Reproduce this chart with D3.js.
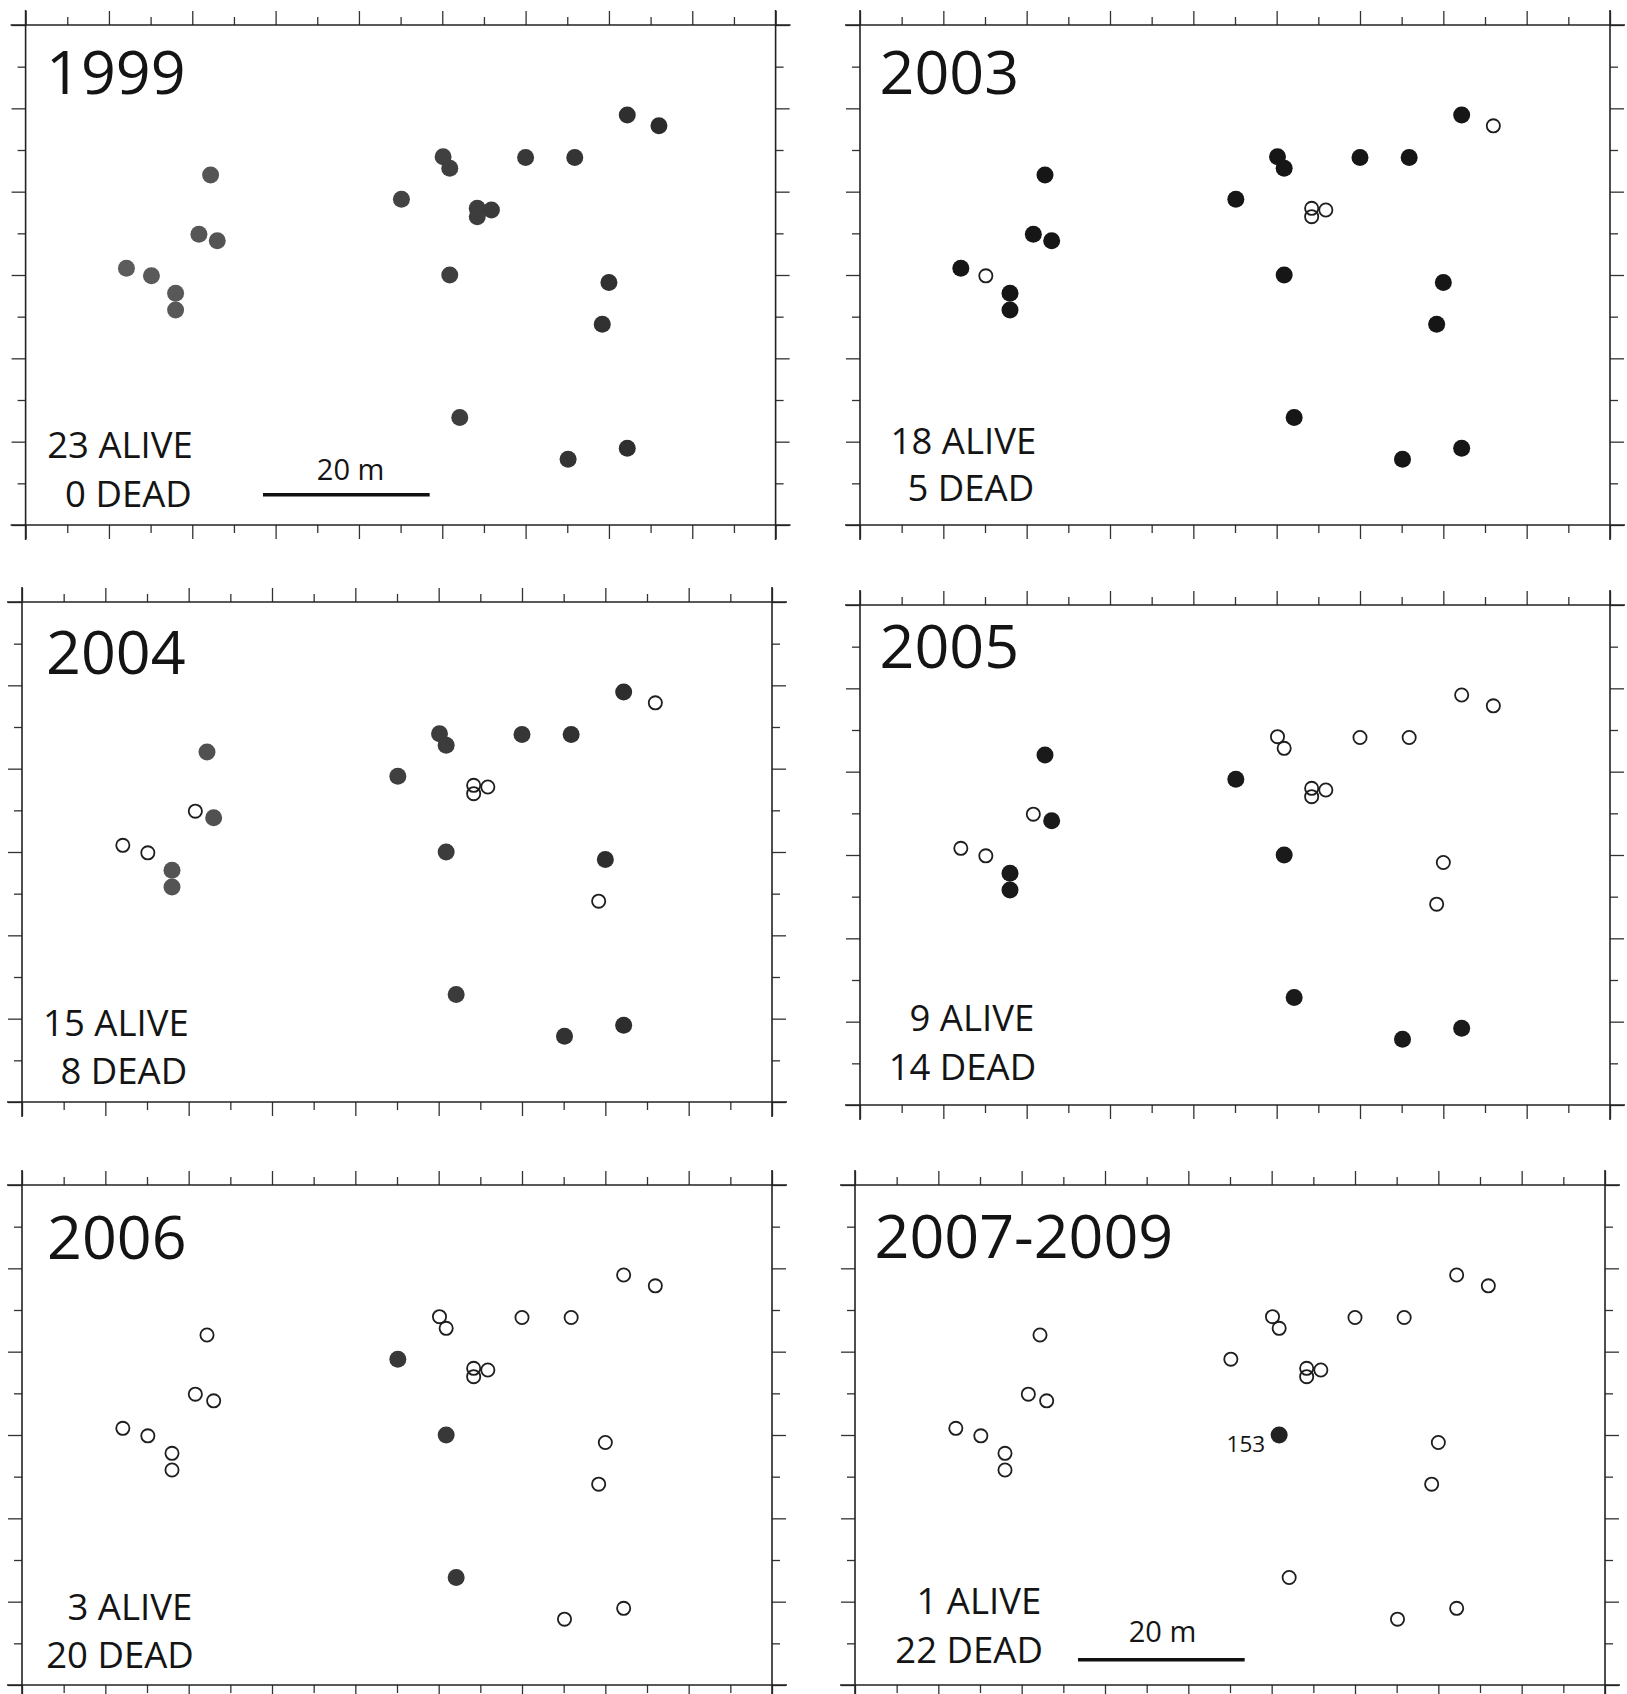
<!DOCTYPE html>
<html>
<head>
<meta charset="utf-8">
<script src="https://cdn.jsdelivr.net/npm/d3@7/dist/d3.min.js"></script>
<style>
  html, body { margin: 0; padding: 0; background: #fff; }
  svg { display: block; }
  text { font-family: "Open Sans", "Noto Sans", sans-serif; fill: #141414; }
</style>
</head>
<body>
<svg id="chart" width="1627" height="1694"></svg>
<script>
// ---------------- DATA ----------------
// tree positions in metres (x east, y north) — same stand in every panel
const treeX = [72.2, 76.0, 50.1, 50.9, 60.0, 65.9, 22.2, 45.1, 54.2, 55.9, 54.2, 20.8, 23.0, 12.1, 15.1, 18.0, 18.0, 50.9, 70.0, 69.2, 52.1, 65.1, 72.2];
const treeY = [49.2, 47.9, 44.2, 42.8, 44.1, 44.1, 42.0, 39.1, 38.0, 37.8, 37.0, 34.9, 34.1, 30.8, 29.9, 27.8, 25.8, 30.0, 29.1, 24.1, 12.9, 7.9, 9.2];
const treeLabel = ["", "", "", "", "", "", "", "", "", "", "", "", "", "", "", "", "", "153", "", "", "", "", ""];

const years = ["1999", "2003", "2004", "2005", "2006", "2007-2009"];
const aliveCounts = [23, 18, 15, 9, 3, 1];
const deadCounts = [0, 5, 8, 14, 20, 22];

// 1 = alive (filled), 0 = dead (open)
const alive1999 = [1,1,1,1,1,1,1,1,1,1,1,1,1,1,1,1,1,1,1,1,1,1,1];
const alive2003 = [1,0,1,1,1,1,1,1,0,0,0,1,1,1,0,1,1,1,1,1,1,1,1];
const alive2004 = [1,0,1,1,1,1,1,1,0,0,0,0,1,0,0,1,1,1,1,0,1,1,1];
const alive2005 = [0,0,0,0,0,0,1,1,0,0,0,0,1,0,0,1,1,1,0,0,1,1,1];
const alive2006 = [0,0,0,0,0,0,0,1,0,0,0,0,0,0,0,0,0,1,0,0,1,0,0];
const alive2007 = [0,0,0,0,0,0,0,0,0,0,0,0,0,0,0,0,0,1,0,0,0,0,0];
const aliveStatus = [alive1999, alive2003, alive2004, alive2005, alive2006, alive2007];

const xMajor = [0, 10, 20, 30, 40, 50, 60, 70, 80, 90];
const xMinor = [5, 15, 25, 35, 45, 55, 65, 75, 85];
const yMajor = [0, 10, 20, 30, 40, 50, 60];
const yMinor = [5, 15, 25, 35, 45, 55];
const scaleBarMetres = 20;

// ---------------- LAYOUT / STYLE ----------------
const panelW = 750, panelH = 500;
const panels = [
  { x: 25.6, y: 25,   year: [20.5, 69],   alive: [167.2, 433], dead: [166.2, 481.6], bar: true,  barX: 237.4, barY: 469.8, barText: [325, 454.7], fillL: "#5e5e5e", fillR: "#2c2c2c" },
  { x: 860,  y: 25,   year: [19.5, 69],   alive: [176.2, 429], dead: [174.2, 476],   bar: false, fillL: "#161616", fillR: "#161616" },
  { x: 22,   y: 602,  year: [24, 72],     alive: [166.7, 434], dead: [165.2, 482], bar: false, fillL: "#5a5a5a", fillR: "#2a2a2a" },
  { x: 860,  y: 605,  year: [19.5, 63],   alive: [174.2, 425.7], dead: [176.2, 475], bar: false, fillL: "#1a1a1a", fillR: "#1a1a1a" },
  { x: 22,   y: 1185, year: [25, 73.6],   alive: [170.2, 434.7], dead: [171.8, 482.5], bar: false, fillL: "#383838", fillR: "#383838" },
  { x: 855,  y: 1185, year: [19.5, 72.5], alive: [186.2, 429], dead: [187.9, 478], bar: true, barX: 223, barY: 474.7, barText: [307.5, 457], fillL: "#222", fillR: "#222" }
];

const svg = d3.select("#chart");

const x = d3.scaleLinear().domain([0, 90]).range([0, panelW]);
const y = d3.scaleLinear().domain([0, 60]).range([panelH, 0]);

panels.forEach((p, pi) => {
  const g = svg.append("g").attr("transform", `translate(${p.x},${p.y})`);

  // ticks (outside on all four sides), major and minor
  const addAxis = (axisFn, scale, vals, size, tr) => {
    const a = g.append("g").attr("transform", tr)
      .call(axisFn(scale).tickValues(vals).tickSize(size).tickFormat(""));
    a.select(".domain").remove();
    a.selectAll("line").attr("stroke", "#333").attr("stroke-width", 1.3);
  };
  addAxis(d3.axisTop, x, xMajor, 14, "translate(0,0)");
  addAxis(d3.axisTop, x, xMinor, 8, "translate(0,0)");
  addAxis(d3.axisBottom, x, xMajor, 14, `translate(0,${panelH})`);
  addAxis(d3.axisBottom, x, xMinor, 8, `translate(0,${panelH})`);
  addAxis(d3.axisLeft, y, yMajor, 14, "translate(0,0)");
  addAxis(d3.axisLeft, y, yMinor, 8, "translate(0,0)");
  addAxis(d3.axisRight, y, yMajor, 14, `translate(${panelW},0)`);
  addAxis(d3.axisRight, y, yMinor, 8, `translate(${panelW},0)`);

  // frame lines, extended past the corners like the original
  const ext = 15;
  const frame = g.append("g").attr("stroke", "#222").attr("stroke-width", 1.6);
  frame.append("line").attr("x1", -ext).attr("x2", panelW + ext).attr("y1", 0).attr("y2", 0);
  frame.append("line").attr("x1", -ext).attr("x2", panelW + ext).attr("y1", panelH).attr("y2", panelH);
  frame.append("line").attr("x1", 0).attr("x2", 0).attr("y1", -ext).attr("y2", panelH + ext);
  frame.append("line").attr("x1", panelW).attr("x2", panelW).attr("y1", -ext).attr("y2", panelH + ext);

  // trees
  const status = aliveStatus[pi];
  const fillScale = d3.scaleLinear().domain([10, 76]).range([p.fillL, p.fillR]).interpolate(d3.interpolateRgb).clamp(true);
  const trees = treeX.map((tx, i) => ({ x: tx, y: treeY[i], alive: status[i], label: treeLabel[i] }));

  g.selectAll("circle.dead").data(trees.filter(d => !d.alive)).join("circle")
    .attr("class", "dead")
    .attr("cx", d => x(d.x)).attr("cy", d => y(d.y)).attr("r", 6.6)
    .attr("fill", "none").attr("stroke", "#1e1e1e").attr("stroke-width", 1.8);

  g.selectAll("circle.alive").data(trees.filter(d => d.alive)).join("circle")
    .attr("class", "alive")
    .attr("cx", d => x(d.x)).attr("cy", d => y(d.y)).attr("r", 8.5)
    .attr("fill", d => fillScale(d.x));

  // tree id label (only in the last panel, for the surviving tree)
  if (pi === panels.length - 1) {
    g.selectAll("text.tid").data(trees.filter(d => d.alive && d.label)).join("text")
      .attr("class", "tid")
      .attr("x", d => x(d.x) - 14).attr("y", d => y(d.y) + 17)
      .attr("text-anchor", "end").attr("font-size", 22.5).text(d => d.label);
  }

  // year label
  g.append("text").attr("x", p.year[0]).attr("y", p.year[1])
    .attr("font-size", 61).text(years[pi]);

  // counts
  g.append("text").attr("x", p.alive[0]).attr("y", p.alive[1])
    .attr("text-anchor", "end").attr("font-size", 36.5).text(`${aliveCounts[pi]} ALIVE`);
  g.append("text").attr("x", p.dead[0]).attr("y", p.dead[1])
    .attr("text-anchor", "end").attr("font-size", 36.5).text(`${deadCounts[pi]} DEAD`);

  // scale bar
  if (p.bar) {
    const len = x(scaleBarMetres) - x(0);
    g.append("line").attr("x1", p.barX).attr("x2", p.barX + len)
      .attr("y1", p.barY).attr("y2", p.barY)
      .attr("stroke", "#111").attr("stroke-width", 3.5);
    g.append("text").attr("x", p.barText[0]).attr("y", p.barText[1])
      .attr("text-anchor", "middle").attr("font-size", 29).text(`${scaleBarMetres} m`);
  }
});
</script>
</body>
</html>
